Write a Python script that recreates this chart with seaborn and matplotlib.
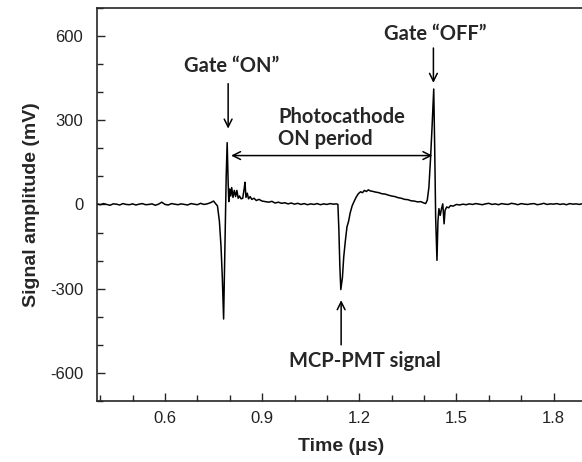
import numpy as np
import matplotlib
matplotlib.use("Agg")
import matplotlib.pyplot as plt
import seaborn as sns
from matplotlib.ticker import MultipleLocator

# trace: time (us) and amplitude (mV)
t_pre = [0.390, 0.400, 0.410, 0.420, 0.430, 0.440, 0.450, 0.460, 0.470, 0.480,
         0.490, 0.500, 0.510, 0.520, 0.530, 0.540, 0.550, 0.560, 0.570, 0.580,
         0.590, 0.600, 0.610, 0.620, 0.630, 0.640, 0.650, 0.660, 0.670, 0.680,
         0.690, 0.700, 0.710, 0.720, 0.730, 0.740, 0.750, 0.756]
v_pre = [2, -1, 3, 0, -3, 2, 1, -2, 3, 0,
         -1, 2, -2, 1, 3, -1, 0, 2, -3, 1,
         8, 0, -2, 3, 1, -1, 2, 0, -2, 3,
         1, -1, 4, 0, 2, 6, 12, 3]

t_on = [0.762, 0.768, 0.773, 0.777, 0.781, 0.785, 0.789, 0.792, 0.795, 0.797,
        0.800, 0.803, 0.806, 0.810, 0.814, 0.818, 0.822, 0.826, 0.830, 0.835,
        0.840, 0.845, 0.847, 0.850, 0.854, 0.858, 0.863, 0.868, 0.875, 0.882,
        0.890, 0.900]
v_on = [-5, -60, -150, -260, -408, -150, 100, 220, 80, 10,
        55, 30, 60, 25, 50, 28, 50, 22, 30, 20,
        22, 60, 79, 25, 40, 20, 28, 18, 22, 14,
        18, 12]

t_mid = [0.910, 0.920, 0.930, 0.940, 0.950, 0.960, 0.970, 0.980, 0.990, 1.000,
         1.010, 1.020, 1.030, 1.040, 1.050, 1.060, 1.070, 1.080, 1.090, 1.100,
         1.110, 1.120, 1.130]
v_mid = [10, 8, 11, 5, 8, 4, 6, 2, 5, 1,
         4, 0, 3, -1, 2, 0, 3, -1, 2, 0,
         3, 1, 2]

t_pmt = [1.134, 1.137, 1.140, 1.143, 1.148, 1.152, 1.157, 1.162, 1.167, 1.172,
         1.178, 1.183, 1.190, 1.197, 1.204, 1.210, 1.216, 1.222, 1.228, 1.234,
         1.240, 1.250, 1.260, 1.270, 1.280, 1.290, 1.300, 1.310, 1.320, 1.330,
         1.340, 1.350, 1.360, 1.370, 1.380, 1.390, 1.400, 1.405]
v_pmt = [0, -90, -220, -303, -260, -187, -130, -80, -60, -30,
         -5, 8, 25, 38, 45, 42, 50, 46, 52, 48,
         47, 44, 42, 38, 37, 33, 30, 28, 24, 22,
         18, 17, 13, 12, 9, 10, 5, 3]

t_off = [1.410, 1.415, 1.420, 1.425, 1.430, 1.433, 1.436, 1.440, 1.443, 1.446,
         1.450, 1.454, 1.458, 1.462, 1.465, 1.470, 1.476, 1.482, 1.490, 1.500]
v_off = [15, 60, 160, 280, 411, 200, -50, -199, -60, -15,
         -39, -15, 2, -69, -21, -9, -12, -4, -6, 0]

t_post = [1.510, 1.520, 1.530, 1.540, 1.550, 1.560, 1.570, 1.580, 1.590, 1.600,
          1.610, 1.620, 1.630, 1.640, 1.650, 1.660, 1.670, 1.680, 1.690, 1.700,
          1.710, 1.720, 1.730, 1.740, 1.750, 1.760, 1.770, 1.780, 1.790, 1.800,
          1.810, 1.820, 1.830, 1.840, 1.850, 1.860, 1.870, 1.880, 1.890, 1.900]
v_post = [-2, 1, -1, 2, 0, 3, 1, -1, 2, 4,
          0, 2, -1, 3, 1, 0, 4, 2, -1, 3,
          1, 0, 2, 3, -1, 1, 4, 0, 2, 1,
          3, 0, 2, -1, 3, 1, 2, 0, 3, 1]

time = np.array(t_pre + t_on + t_mid + t_pmt + t_off + t_post)
signal = np.array(v_pre + v_on + v_mid + v_pmt + v_off + v_post)

sns.set_style("ticks")
plt.rcParams['font.family'] = ['Liberation Sans', 'DejaVu Sans']
plt.rcParams['axes.unicode_minus'] = False

fig = plt.figure(figsize=(5.82, 4.62), dpi=100)
ax = fig.add_axes([0.1667, 0.132, 0.84, 0.851])

sns.lineplot(x=time, y=signal, ax=ax, color='black', linewidth=1.1,
             estimator=None, sort=False)

ax.set_xlim(0.39, 1.90)
ax.set_ylim(-700, 700)
ax.xaxis.set_major_locator(MultipleLocator(0.3))
ax.xaxis.set_minor_locator(MultipleLocator(0.1))
ax.yaxis.set_major_locator(MultipleLocator(300))
ax.yaxis.set_minor_locator(MultipleLocator(100))
ax.tick_params(which='both', direction='in', width=1.0, labelsize=12,
               labelcolor='#222222')
ax.tick_params(axis='x', pad=7)
ax.tick_params(axis='y', pad=10)
ax.tick_params(which='major', length=6)
ax.tick_params(which='minor', length=4)
for s in ax.spines.values():
    s.set_linewidth(1.2)
ax.spines['right'].set_visible(False)

ax.set_xlabel('Time (μs)', fontsize=14, fontweight='bold', labelpad=9)
ax.set_ylabel('Signal amplitude (mV)', fontsize=14, fontweight='bold', labelpad=7)

note = dict(family=['Lato', 'DejaVu Sans'], fontsize=14.5, fontweight='bold')
arr = dict(arrowstyle='->', color='black', lw=1.1, mutation_scale=14,
           shrinkA=0, shrinkB=0)

ax.text(0.807, 493, 'Gate “ON”', ha='center', va='center', **note)
ax.annotate('', xy=(0.795, 270), xytext=(0.795, 430), arrowprops=arr)

ax.text(1.435, 607, 'Gate “OFF”', ha='center', va='center', **note)
ax.annotate('', xy=(1.429, 433), xytext=(1.429, 557), arrowprops=arr)

ax.text(0.950, 273, 'Photocathode\nON period', ha='left', va='center',
        linespacing=1.15, **note)
ax.annotate('', xy=(0.804, 174), xytext=(1.426, 174),
            arrowprops=dict(arr, arrowstyle='<->'))

ax.annotate('', xy=(1.144, -341), xytext=(1.144, -500), arrowprops=arr)
ax.text(1.219, -557, 'MCP-PMT signal', ha='center', va='center', **note)

fig.savefig('out.png', dpi=100)
